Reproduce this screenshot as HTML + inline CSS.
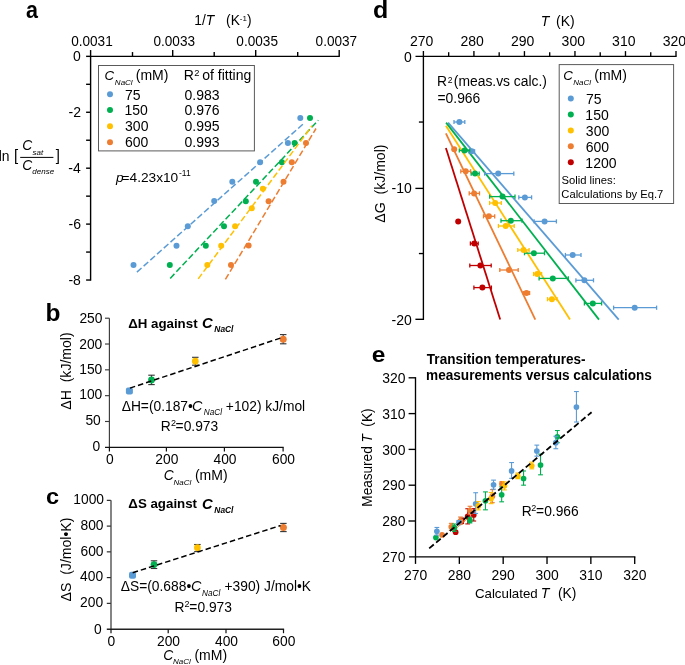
<!DOCTYPE html>
<html><head><meta charset="utf-8"><style>
html,body{margin:0;padding:0;background:#fff;}
svg{display:block;will-change:transform;font-family:"Liberation Sans",sans-serif;}
</style></head><body>
<svg width="685" height="665" viewBox="0 0 685 665">
<text transform="translate(26.00,18.10) scale(1.0,1.1)" font-size="21.5" font-weight="bold">a</text>
<line x1="89.95" y1="56.35" x2="339.85" y2="56.35" stroke="#000" stroke-width="1.4"/>
<line x1="90.60" y1="56.35" x2="90.60" y2="50.05" stroke="#000" stroke-width="1.4"/>
<line x1="132.50" y1="56.35" x2="132.50" y2="52.05" stroke="#000" stroke-width="1.4"/>
<line x1="172.70" y1="56.35" x2="172.70" y2="50.05" stroke="#000" stroke-width="1.4"/>
<line x1="214.20" y1="56.35" x2="214.20" y2="52.05" stroke="#000" stroke-width="1.4"/>
<line x1="255.70" y1="56.35" x2="255.70" y2="50.05" stroke="#000" stroke-width="1.4"/>
<line x1="297.70" y1="56.35" x2="297.70" y2="52.05" stroke="#000" stroke-width="1.4"/>
<line x1="339.20" y1="56.35" x2="339.20" y2="50.05" stroke="#000" stroke-width="1.4"/>
<text transform="translate(71.17,45.90) scale(1.0,1.03)" font-size="13.6">0.0031</text>
<text transform="translate(153.47,45.90) scale(1.0,1.03)" font-size="13.6">0.0033</text>
<text transform="translate(236.37,45.90) scale(1.0,1.03)" font-size="13.6">0.0035</text>
<text transform="translate(315.57,45.90) scale(1.0,1.03)" font-size="13.6">0.0037</text>
<text transform="translate(194.25,25.30) scale(1.0,1.0)" font-size="13.8">1/<tspan font-style="italic">T</tspan></text>
<text transform="translate(226.04,25.30) scale(1.0,1.0)" font-size="13.8">(K<tspan font-size="8" dy="-4.3">-1</tspan><tspan dy="4.3">)</tspan></text>
<line x1="90.60" y1="56.35" x2="90.60" y2="280.68" stroke="#000" stroke-width="1.4"/>
<line x1="86.10" y1="56.35" x2="90.60" y2="56.35" stroke="#000" stroke-width="1.4"/>
<line x1="86.10" y1="84.31" x2="90.60" y2="84.31" stroke="#000" stroke-width="1.4"/>
<line x1="86.10" y1="112.27" x2="90.60" y2="112.27" stroke="#000" stroke-width="1.4"/>
<line x1="86.10" y1="140.23" x2="90.60" y2="140.23" stroke="#000" stroke-width="1.4"/>
<line x1="86.10" y1="168.19" x2="90.60" y2="168.19" stroke="#000" stroke-width="1.4"/>
<line x1="86.10" y1="196.15" x2="90.60" y2="196.15" stroke="#000" stroke-width="1.4"/>
<line x1="86.10" y1="224.11" x2="90.60" y2="224.11" stroke="#000" stroke-width="1.4"/>
<line x1="86.10" y1="252.07" x2="90.60" y2="252.07" stroke="#000" stroke-width="1.4"/>
<line x1="86.10" y1="280.03" x2="90.60" y2="280.03" stroke="#000" stroke-width="1.4"/>
<text transform="translate(73.06,61.15) scale(1.0,1.0)" font-size="14">0</text>
<text transform="translate(68.55,117.07) scale(1.0,1.0)" font-size="14">-2</text>
<text transform="translate(68.26,172.99) scale(1.0,1.0)" font-size="14">-4</text>
<text transform="translate(68.47,228.91) scale(1.0,1.0)" font-size="14">-6</text>
<text transform="translate(68.46,284.83) scale(1.0,1.0)" font-size="14">-8</text>
<text transform="translate(-1.33,160.90) scale(1.0,1.0)" font-size="13.9">ln</text>
<text transform="translate(13.90,160.60) scale(1.0,1.06)" font-size="15">[</text>
<text transform="translate(55.70,160.60) scale(1.0,1.06)" font-size="15">]</text>
<line x1="20.20" y1="157.40" x2="53.40" y2="157.40" stroke="#000" stroke-width="1"/>
<text transform="translate(22.24,150.40) scale(1.0,1.06)" font-size="13.8" font-style="italic">C</text>
<text transform="translate(32.58,154.90) scale(1.0,0.9)" font-size="8" font-style="italic">sat</text>
<text transform="translate(22.24,169.90) scale(1.0,1.0)" font-size="13.8" font-style="italic">C</text>
<text transform="translate(32.33,174.40) scale(1.0,0.95)" font-size="8" font-style="italic">dense</text>
<rect x="98.5" y="65.5" width="155.9" height="85.4" fill="#fff" stroke="#5a5a5a" stroke-width="1"/>
<text transform="translate(104.57,80.00) scale(1.0,1.0)" font-size="13.3" font-style="italic">C</text>
<text transform="translate(114.85,84.80) scale(1.0,1.0)" font-size="8" font-style="italic">NaCl</text>
<text transform="translate(135.73,79.90) scale(1.0,1.0)" font-size="14">(mM)</text>
<text transform="translate(183.75,80.00) scale(1.0,1.0)" font-size="14">R</text>
<text transform="translate(194.34,75.50) scale(1.0,1.0)" font-size="9.3">2</text>
<text transform="translate(202.21,80.10) scale(1.0,1.0)" font-size="14">of fitting</text>
<circle cx="110.00" cy="94.20" r="3" fill="#5B9BD5"/>
<text transform="translate(124.89,99.80) scale(1.0,1.0)" font-size="14">75</text>
<text transform="translate(184.45,99.80) scale(1.0,1.0)" font-size="14">0.983</text>
<circle cx="110.00" cy="110.00" r="3" fill="#00B050"/>
<text transform="translate(124.54,115.30) scale(1.0,1.0)" font-size="14">150</text>
<text transform="translate(184.45,115.30) scale(1.0,1.0)" font-size="14">0.976</text>
<circle cx="110.00" cy="126.20" r="3" fill="#FFC000"/>
<text transform="translate(125.07,131.30) scale(1.0,1.0)" font-size="14">300</text>
<text transform="translate(184.45,131.30) scale(1.0,1.0)" font-size="14">0.995</text>
<circle cx="110.00" cy="142.30" r="3" fill="#ED7D31"/>
<text transform="translate(124.89,147.20) scale(1.0,1.0)" font-size="14">600</text>
<text transform="translate(184.45,147.20) scale(1.0,1.0)" font-size="14">0.993</text>
<text transform="translate(115.94,181.60) scale(1.0,1.0)" font-size="13.7" font-style="italic">p</text>
<text transform="translate(121.53,181.60) scale(1.0,1.0)" font-size="13.7">=4.23x10</text>
<text transform="translate(179.00,176.20) scale(1.0,1.0)" font-size="8.5">-11</text>
<circle cx="133.50" cy="265.10" r="3" fill="#5B9BD5"/>
<circle cx="176.50" cy="245.70" r="3" fill="#5B9BD5"/>
<circle cx="187.80" cy="226.30" r="3" fill="#5B9BD5"/>
<circle cx="214.20" cy="201.10" r="3" fill="#5B9BD5"/>
<circle cx="232.30" cy="181.80" r="3" fill="#5B9BD5"/>
<circle cx="260.10" cy="162.30" r="3" fill="#5B9BD5"/>
<circle cx="287.90" cy="143.00" r="3" fill="#5B9BD5"/>
<circle cx="300.30" cy="118.00" r="3" fill="#5B9BD5"/>
<circle cx="169.80" cy="265.10" r="3" fill="#00B050"/>
<circle cx="205.80" cy="245.70" r="3" fill="#00B050"/>
<circle cx="224.00" cy="226.30" r="3" fill="#00B050"/>
<circle cx="245.80" cy="201.20" r="3" fill="#00B050"/>
<circle cx="256.00" cy="181.80" r="3" fill="#00B050"/>
<circle cx="281.90" cy="162.20" r="3" fill="#00B050"/>
<circle cx="294.60" cy="143.00" r="3" fill="#00B050"/>
<circle cx="310.00" cy="118.00" r="3" fill="#00B050"/>
<circle cx="207.30" cy="265.10" r="3" fill="#FFC000"/>
<circle cx="221.20" cy="245.70" r="3" fill="#FFC000"/>
<circle cx="235.10" cy="226.20" r="3" fill="#FFC000"/>
<circle cx="251.80" cy="208.20" r="3" fill="#FFC000"/>
<circle cx="262.90" cy="188.70" r="3" fill="#FFC000"/>
<circle cx="231.00" cy="265.10" r="3" fill="#ED7D31"/>
<circle cx="248.60" cy="245.60" r="3" fill="#ED7D31"/>
<circle cx="268.60" cy="201.20" r="3" fill="#ED7D31"/>
<circle cx="283.50" cy="181.80" r="3" fill="#ED7D31"/>
<circle cx="291.80" cy="162.30" r="3" fill="#ED7D31"/>
<circle cx="306.00" cy="143.00" r="3" fill="#ED7D31"/>
<line x1="136.90" y1="272.10" x2="304.30" y2="123.00" stroke="#5B9BD5" stroke-width="1.5" stroke-dasharray="6.2,2.8"/>
<line x1="170.20" y1="278.40" x2="318.30" y2="120.30" stroke="#00B050" stroke-width="1.5" stroke-dasharray="6.2,2.8"/>
<line x1="198.20" y1="278.90" x2="312.00" y2="125.80" stroke="#FFC000" stroke-width="1.5" stroke-dasharray="6.2,2.8"/>
<line x1="225.40" y1="279.40" x2="316.00" y2="128.50" stroke="#ED7D31" stroke-width="1.5" stroke-dasharray="6.2,2.8"/>
<text transform="translate(45.60,320.90) scale(1.0,0.97)" font-size="24.5" font-weight="bold">b</text>
<line x1="109.40" y1="318.20" x2="109.40" y2="447.30" stroke="#3a3a3a" stroke-width="1.15"/>
<line x1="105.00" y1="447.40" x2="283.70" y2="447.40" stroke="#111" stroke-width="1.3"/>
<line x1="105.00" y1="421.48" x2="109.40" y2="421.48" stroke="#3a3a3a" stroke-width="1.15"/>
<line x1="105.00" y1="395.66" x2="109.40" y2="395.66" stroke="#3a3a3a" stroke-width="1.15"/>
<line x1="105.00" y1="369.84" x2="109.40" y2="369.84" stroke="#3a3a3a" stroke-width="1.15"/>
<line x1="105.00" y1="344.02" x2="109.40" y2="344.02" stroke="#3a3a3a" stroke-width="1.15"/>
<line x1="105.00" y1="318.20" x2="109.40" y2="318.20" stroke="#3a3a3a" stroke-width="1.15"/>
<text transform="translate(79.42,322.60) scale(1.0,1.0)" font-size="13.8">250</text>
<text transform="translate(79.22,348.50) scale(1.0,1.0)" font-size="13.8">200</text>
<text transform="translate(79.22,374.00) scale(1.0,1.0)" font-size="13.8">150</text>
<text transform="translate(79.22,399.00) scale(1.0,1.0)" font-size="13.8">100</text>
<text transform="translate(85.39,424.70) scale(1.0,1.0)" font-size="13.8">50</text>
<text transform="translate(92.47,450.60) scale(1.0,1.0)" font-size="13.8">0</text>
<line x1="109.40" y1="447.40" x2="109.40" y2="451.40" stroke="#111" stroke-width="1.2"/>
<text transform="translate(106.06,464.40) scale(1.0,1.0)" font-size="13.8">0</text>
<line x1="166.40" y1="447.40" x2="166.40" y2="451.40" stroke="#111" stroke-width="1.2"/>
<text transform="translate(155.31,464.40) scale(1.0,1.0)" font-size="13.8">200</text>
<line x1="224.40" y1="447.40" x2="224.40" y2="451.40" stroke="#111" stroke-width="1.2"/>
<text transform="translate(213.50,464.40) scale(1.0,1.0)" font-size="13.8">400</text>
<line x1="283.10" y1="447.40" x2="283.10" y2="451.40" stroke="#111" stroke-width="1.2"/>
<text transform="translate(272.01,464.40) scale(1.0,1.0)" font-size="13.8">600</text>
<text transform="translate(128.15,327.90) scale(1.0,1.0)" font-size="13.3" font-weight="bold">ΔH against</text>
<text transform="translate(202.07,328.20) scale(1.0,0.95)" font-size="14.8" font-weight="bold" font-style="italic">C</text>
<text transform="translate(214.35,332.30) scale(1.0,1.0)" font-size="8.4" font-weight="bold" font-style="italic">NaCl</text>
<line x1="151.50" y1="375.20" x2="151.50" y2="384.60" stroke="#333" stroke-width="1.1"/>
<line x1="148.25" y1="375.20" x2="154.75" y2="375.20" stroke="#333" stroke-width="1.1"/>
<line x1="148.25" y1="384.60" x2="154.75" y2="384.60" stroke="#333" stroke-width="1.1"/>
<line x1="195.30" y1="357.30" x2="195.30" y2="365.20" stroke="#333" stroke-width="1.1"/>
<line x1="192.05" y1="357.30" x2="198.55" y2="357.30" stroke="#333" stroke-width="1.1"/>
<line x1="192.05" y1="365.20" x2="198.55" y2="365.20" stroke="#333" stroke-width="1.1"/>
<line x1="283.20" y1="334.60" x2="283.20" y2="343.80" stroke="#333" stroke-width="1.1"/>
<line x1="279.95" y1="334.60" x2="286.45" y2="334.60" stroke="#333" stroke-width="1.1"/>
<line x1="279.95" y1="343.80" x2="286.45" y2="343.80" stroke="#333" stroke-width="1.1"/>
<rect x="125.9" y="387.5" width="7" height="7" rx="2" fill="#5B9BD5"/>
<circle cx="151.50" cy="380.00" r="3.4" fill="#00B050"/>
<circle cx="195.30" cy="361.20" r="3.4" fill="#FFC000"/>
<circle cx="283.20" cy="339.30" r="3.5" fill="#ED7D31"/>
<line x1="129.90" y1="388.10" x2="282.90" y2="337.30" stroke="#000" stroke-width="1.5" stroke-dasharray="5.5,3"/>
<text transform="translate(121.69,411.10) scale(1.0,1.0)" font-size="13.8">ΔH=(0.187•</text>
<text transform="translate(191.91,411.10) scale(1.0,1.0)" font-size="14.4" font-style="italic">C</text>
<text transform="translate(203.75,415.00) scale(1.0,1.0)" font-size="8.2" font-style="italic">NaCl</text>
<text transform="translate(225.82,411.10) scale(1.0,1.0)" font-size="13.8">+102) kJ/mol</text>
<text transform="translate(160.67,430.70) scale(1.0,1.0)" font-size="13.8">R</text>
<text transform="translate(170.95,425.70) scale(1.0,1.0)" font-size="9">2</text>
<text transform="translate(175.62,430.70) scale(1.0,1.0)" font-size="13.8">=0.973</text>
<text transform="translate(163.84,479.60) scale(1.0,1.0)" font-size="13.8" font-style="italic">C</text>
<text transform="translate(173.55,484.80) scale(1.0,1.0)" font-size="8" font-style="italic">NaCl</text>
<text transform="translate(194.93,479.80) scale(1.0,1.0)" font-size="14">(mM)</text>
<text transform="translate(71.4,371.0) rotate(-90) scale(1.02,1)" font-size="13.8" text-anchor="middle" xml:space="preserve">ΔH  (kJ/mol)</text>
<text transform="translate(45.90,504.10) scale(1.0,0.96)" font-size="23.5" font-weight="bold">c</text>
<line x1="111.00" y1="500.35" x2="111.00" y2="629.10" stroke="#666" stroke-width="1.6"/>
<line x1="106.80" y1="629.20" x2="284.10" y2="629.20" stroke="#222" stroke-width="1.35"/>
<line x1="106.80" y1="603.35" x2="110.80" y2="603.35" stroke="#222" stroke-width="1.15"/>
<line x1="106.80" y1="577.60" x2="110.80" y2="577.60" stroke="#222" stroke-width="1.15"/>
<line x1="106.80" y1="551.85" x2="110.80" y2="551.85" stroke="#222" stroke-width="1.15"/>
<line x1="106.80" y1="526.10" x2="110.80" y2="526.10" stroke="#222" stroke-width="1.15"/>
<line x1="106.80" y1="500.35" x2="110.80" y2="500.35" stroke="#222" stroke-width="1.15"/>
<text transform="translate(73.35,504.40) scale(1.0,1.0)" font-size="13.8">1000</text>
<text transform="translate(80.52,530.20) scale(1.0,1.0)" font-size="13.8">800</text>
<text transform="translate(80.52,555.50) scale(1.0,1.0)" font-size="13.8">600</text>
<text transform="translate(80.12,581.10) scale(1.0,1.0)" font-size="13.8">400</text>
<text transform="translate(80.12,606.50) scale(1.0,1.0)" font-size="13.8">200</text>
<text transform="translate(93.97,633.50) scale(1.0,1.0)" font-size="13.8">0</text>
<line x1="111.00" y1="629.20" x2="111.00" y2="633.20" stroke="#111" stroke-width="1.2"/>
<text transform="translate(107.56,646.30) scale(1.0,1.0)" font-size="13.8">0</text>
<line x1="168.20" y1="629.20" x2="168.20" y2="633.20" stroke="#111" stroke-width="1.2"/>
<text transform="translate(157.01,646.30) scale(1.0,1.0)" font-size="13.8">200</text>
<line x1="226.00" y1="629.20" x2="226.00" y2="633.20" stroke="#111" stroke-width="1.2"/>
<text transform="translate(215.00,646.30) scale(1.0,1.0)" font-size="13.8">400</text>
<line x1="283.50" y1="629.20" x2="283.50" y2="633.20" stroke="#111" stroke-width="1.2"/>
<text transform="translate(272.31,646.30) scale(1.0,1.0)" font-size="13.8">600</text>
<text transform="translate(128.35,508.30) scale(1.0,1.0)" font-size="13.3" font-weight="bold">ΔS against</text>
<text transform="translate(202.07,508.60) scale(1.0,0.95)" font-size="14.8" font-weight="bold" font-style="italic">C</text>
<text transform="translate(214.35,512.70) scale(1.0,1.0)" font-size="8.4" font-weight="bold" font-style="italic">NaCl</text>
<line x1="154.00" y1="560.80" x2="154.00" y2="568.50" stroke="#333" stroke-width="1.1"/>
<line x1="150.75" y1="560.80" x2="157.25" y2="560.80" stroke="#333" stroke-width="1.1"/>
<line x1="150.75" y1="568.50" x2="157.25" y2="568.50" stroke="#333" stroke-width="1.1"/>
<line x1="197.40" y1="544.50" x2="197.40" y2="551.60" stroke="#333" stroke-width="1.1"/>
<line x1="194.15" y1="544.50" x2="200.65" y2="544.50" stroke="#333" stroke-width="1.1"/>
<line x1="194.15" y1="551.60" x2="200.65" y2="551.60" stroke="#333" stroke-width="1.1"/>
<line x1="283.40" y1="523.40" x2="283.40" y2="531.60" stroke="#333" stroke-width="1.1"/>
<line x1="280.15" y1="523.40" x2="286.65" y2="523.40" stroke="#333" stroke-width="1.1"/>
<line x1="280.15" y1="531.60" x2="286.65" y2="531.60" stroke="#333" stroke-width="1.1"/>
<rect x="129.0" y="571.8" width="7" height="7" rx="2" fill="#5B9BD5"/>
<circle cx="154.00" cy="564.60" r="3.4" fill="#00B050"/>
<circle cx="197.40" cy="547.70" r="3.4" fill="#FFC000"/>
<circle cx="283.40" cy="527.40" r="3.5" fill="#ED7D31"/>
<line x1="132.70" y1="572.70" x2="280.60" y2="525.50" stroke="#000" stroke-width="1.5" stroke-dasharray="5.5,3"/>
<text transform="translate(120.79,590.80) scale(1.0,1.0)" font-size="13.8">ΔS=(0.688•</text>
<text transform="translate(191.01,590.80) scale(1.0,1.0)" font-size="14.4" font-style="italic">C</text>
<text transform="translate(202.05,595.60) scale(1.0,1.0)" font-size="8.2" font-style="italic">NaCl</text>
<text transform="translate(224.52,590.80) scale(1.0,1.0)" font-size="13.8">+390) J/mol•K</text>
<text transform="translate(174.57,612.00) scale(1.0,1.0)" font-size="13.8">R</text>
<text transform="translate(184.55,606.60) scale(1.0,1.0)" font-size="9">2</text>
<text transform="translate(189.32,612.00) scale(1.0,1.0)" font-size="13.8">=0.973</text>
<text transform="translate(163.34,659.60) scale(1.0,1.0)" font-size="13.8" font-style="italic">C</text>
<text transform="translate(173.05,664.40) scale(1.0,1.0)" font-size="8" font-style="italic">NaCl</text>
<text transform="translate(194.43,660.00) scale(1.0,1.0)" font-size="14">(mM)</text>
<text transform="translate(71.3,559.5) rotate(-90) scale(1.02,1)" font-size="13.8" text-anchor="middle" xml:space="preserve">ΔS  (J/mol•K)</text>
<text transform="translate(373.00,17.60) scale(1.0,0.92)" font-size="25" font-weight="bold">d</text>
<line x1="415.50" y1="56.30" x2="676.65" y2="56.30" stroke="#000" stroke-width="1.35"/>
<line x1="423.40" y1="51.10" x2="423.40" y2="319.95" stroke="#000" stroke-width="1.35"/>
<text transform="translate(409.95,45.90) scale(1.0,1.0)" font-size="14">270</text>
<line x1="448.66" y1="56.30" x2="448.66" y2="52.20" stroke="#000" stroke-width="1.35"/>
<line x1="473.92" y1="56.30" x2="473.92" y2="51.10" stroke="#000" stroke-width="1.35"/>
<text transform="translate(460.47,45.90) scale(1.0,1.0)" font-size="14">280</text>
<line x1="499.18" y1="56.30" x2="499.18" y2="52.20" stroke="#000" stroke-width="1.35"/>
<line x1="524.44" y1="56.30" x2="524.44" y2="51.10" stroke="#000" stroke-width="1.35"/>
<text transform="translate(510.99,45.90) scale(1.0,1.0)" font-size="14">290</text>
<line x1="549.70" y1="56.30" x2="549.70" y2="52.20" stroke="#000" stroke-width="1.35"/>
<line x1="574.96" y1="56.30" x2="574.96" y2="51.10" stroke="#000" stroke-width="1.35"/>
<text transform="translate(561.59,45.90) scale(1.0,1.0)" font-size="14">300</text>
<line x1="600.22" y1="56.30" x2="600.22" y2="52.20" stroke="#000" stroke-width="1.35"/>
<line x1="625.48" y1="56.30" x2="625.48" y2="51.10" stroke="#000" stroke-width="1.35"/>
<text transform="translate(612.11,45.90) scale(1.0,1.0)" font-size="14">310</text>
<line x1="650.74" y1="56.30" x2="650.74" y2="52.20" stroke="#000" stroke-width="1.35"/>
<line x1="676.00" y1="56.30" x2="676.00" y2="51.10" stroke="#000" stroke-width="1.35"/>
<text transform="translate(662.63,45.90) scale(1.0,1.0)" font-size="14">320</text>
<line x1="418.90" y1="122.05" x2="423.40" y2="122.05" stroke="#000" stroke-width="1.35"/>
<line x1="415.40" y1="188.40" x2="423.40" y2="188.40" stroke="#000" stroke-width="1.35"/>
<line x1="418.90" y1="253.55" x2="423.40" y2="253.55" stroke="#000" stroke-width="1.35"/>
<line x1="415.40" y1="319.30" x2="423.40" y2="319.30" stroke="#000" stroke-width="1.35"/>
<text transform="translate(403.96,61.60) scale(1.0,1.0)" font-size="14">0</text>
<text transform="translate(391.52,192.90) scale(1.0,1.0)" font-size="14">-10</text>
<text transform="translate(391.52,325.30) scale(1.0,1.0)" font-size="14">-20</text>
<text transform="translate(540.64,26.40) scale(1.0,1.0)" font-size="14" font-style="italic">T</text>
<text transform="translate(556.03,26.40) scale(1.0,1.0)" font-size="14">(K)</text>
<text transform="translate(384.9,183.6) rotate(-90) scale(1.02,1)" font-size="13.8" text-anchor="middle" xml:space="preserve">ΔG  (kJ/mol)</text>
<text transform="translate(437.06,86.40) scale(1.0,1.0)" font-size="13.85">R</text>
<text transform="translate(447.87,82.50) scale(1.0,1.0)" font-size="8.6">2</text>
<text transform="translate(453.84,86.40) scale(1.0,1.0)" font-size="13.85">(meas.vs calc.)</text>
<text transform="translate(437.52,102.70) scale(1.0,1.0)" font-size="13.85">=0.966</text>
<rect x="559.2" y="64.6" width="114.4" height="138.9" fill="#fff" stroke="#5a5a5a" stroke-width="1"/>
<text transform="translate(563.37,80.30) scale(1.0,1.0)" font-size="13.3" font-style="italic">C</text>
<text transform="translate(573.15,84.90) scale(1.0,1.0)" font-size="8" font-style="italic">NaCl</text>
<text transform="translate(594.23,80.20) scale(1.0,1.0)" font-size="14">(mM)</text>
<circle cx="570.80" cy="98.50" r="3" fill="#5B9BD5"/>
<text transform="translate(585.89,103.70) scale(1.0,1.0)" font-size="14">75</text>
<circle cx="570.80" cy="114.45" r="3" fill="#00B050"/>
<text transform="translate(585.34,119.65) scale(1.0,1.0)" font-size="14">150</text>
<circle cx="570.80" cy="130.40" r="3" fill="#FFC000"/>
<text transform="translate(585.87,135.60) scale(1.0,1.0)" font-size="14">300</text>
<circle cx="570.80" cy="146.35" r="3" fill="#ED7D31"/>
<text transform="translate(585.69,151.55) scale(1.0,1.0)" font-size="14">600</text>
<circle cx="570.80" cy="162.30" r="3" fill="#C00000"/>
<text transform="translate(585.34,167.50) scale(1.0,1.0)" font-size="14">1200</text>
<text transform="translate(561.38,184.10) scale(1.0,1.0)" font-size="11.25">Solid lines:</text>
<text transform="translate(561.33,197.60) scale(1.0,1.0)" font-size="11.2">Calculations by Eq.7</text>
<line x1="448.10" y1="122.60" x2="618.70" y2="319.60" stroke="#5B9BD5" stroke-width="1.8"/>
<line x1="446.10" y1="122.60" x2="599.00" y2="319.60" stroke="#00B050" stroke-width="1.8"/>
<line x1="445.90" y1="125.80" x2="570.00" y2="319.60" stroke="#FFC000" stroke-width="1.8"/>
<line x1="445.90" y1="133.30" x2="535.30" y2="319.60" stroke="#ED7D31" stroke-width="1.8"/>
<line x1="445.90" y1="147.90" x2="500.20" y2="319.60" stroke="#C00000" stroke-width="1.8"/>
<line x1="454.00" y1="122.00" x2="464.80" y2="122.00" stroke="#5B9BD5" stroke-width="1.3"/>
<line x1="454.00" y1="119.90" x2="454.00" y2="124.10" stroke="#5B9BD5" stroke-width="1.3"/>
<line x1="464.80" y1="119.90" x2="464.80" y2="124.10" stroke="#5B9BD5" stroke-width="1.3"/>
<circle cx="459.40" cy="122.00" r="3" fill="#5B9BD5"/>
<line x1="468.60" y1="151.30" x2="474.60" y2="151.30" stroke="#5B9BD5" stroke-width="1.3"/>
<line x1="468.60" y1="149.20" x2="468.60" y2="153.40" stroke="#5B9BD5" stroke-width="1.3"/>
<line x1="474.60" y1="149.20" x2="474.60" y2="153.40" stroke="#5B9BD5" stroke-width="1.3"/>
<circle cx="471.80" cy="151.30" r="3" fill="#5B9BD5"/>
<line x1="484.60" y1="173.60" x2="513.80" y2="173.60" stroke="#5B9BD5" stroke-width="1.3"/>
<line x1="484.60" y1="171.50" x2="484.60" y2="175.70" stroke="#5B9BD5" stroke-width="1.3"/>
<line x1="513.80" y1="171.50" x2="513.80" y2="175.70" stroke="#5B9BD5" stroke-width="1.3"/>
<circle cx="498.20" cy="173.60" r="3" fill="#5B9BD5"/>
<line x1="518.80" y1="197.40" x2="531.60" y2="197.40" stroke="#5B9BD5" stroke-width="1.3"/>
<line x1="518.80" y1="195.30" x2="518.80" y2="199.50" stroke="#5B9BD5" stroke-width="1.3"/>
<line x1="531.60" y1="195.30" x2="531.60" y2="199.50" stroke="#5B9BD5" stroke-width="1.3"/>
<circle cx="524.90" cy="197.40" r="3" fill="#5B9BD5"/>
<line x1="534.10" y1="221.40" x2="556.40" y2="221.40" stroke="#5B9BD5" stroke-width="1.3"/>
<line x1="534.10" y1="219.30" x2="534.10" y2="223.50" stroke="#5B9BD5" stroke-width="1.3"/>
<line x1="556.40" y1="219.30" x2="556.40" y2="223.50" stroke="#5B9BD5" stroke-width="1.3"/>
<circle cx="544.60" cy="221.40" r="3" fill="#5B9BD5"/>
<line x1="565.40" y1="255.00" x2="581.00" y2="255.00" stroke="#5B9BD5" stroke-width="1.3"/>
<line x1="565.40" y1="252.90" x2="565.40" y2="257.10" stroke="#5B9BD5" stroke-width="1.3"/>
<line x1="581.00" y1="252.90" x2="581.00" y2="257.10" stroke="#5B9BD5" stroke-width="1.3"/>
<circle cx="572.70" cy="255.00" r="3" fill="#5B9BD5"/>
<line x1="575.90" y1="280.30" x2="593.50" y2="280.30" stroke="#5B9BD5" stroke-width="1.3"/>
<line x1="575.90" y1="278.20" x2="575.90" y2="282.40" stroke="#5B9BD5" stroke-width="1.3"/>
<line x1="593.50" y1="278.20" x2="593.50" y2="282.40" stroke="#5B9BD5" stroke-width="1.3"/>
<circle cx="584.40" cy="280.30" r="3" fill="#5B9BD5"/>
<line x1="613.60" y1="307.70" x2="656.60" y2="307.70" stroke="#5B9BD5" stroke-width="1.3"/>
<line x1="613.60" y1="305.60" x2="613.60" y2="309.80" stroke="#5B9BD5" stroke-width="1.3"/>
<line x1="656.60" y1="305.60" x2="656.60" y2="309.80" stroke="#5B9BD5" stroke-width="1.3"/>
<circle cx="634.70" cy="307.70" r="3" fill="#5B9BD5"/>
<line x1="459.30" y1="150.50" x2="469.70" y2="150.50" stroke="#00B050" stroke-width="1.3"/>
<line x1="459.30" y1="148.40" x2="459.30" y2="152.60" stroke="#00B050" stroke-width="1.3"/>
<line x1="469.70" y1="148.40" x2="469.70" y2="152.60" stroke="#00B050" stroke-width="1.3"/>
<circle cx="464.50" cy="150.50" r="3" fill="#00B050"/>
<line x1="471.20" y1="173.60" x2="479.20" y2="173.60" stroke="#00B050" stroke-width="1.3"/>
<line x1="471.20" y1="171.50" x2="471.20" y2="175.70" stroke="#00B050" stroke-width="1.3"/>
<line x1="479.20" y1="171.50" x2="479.20" y2="175.70" stroke="#00B050" stroke-width="1.3"/>
<circle cx="475.00" cy="173.60" r="3" fill="#00B050"/>
<line x1="489.70" y1="196.60" x2="515.00" y2="196.60" stroke="#00B050" stroke-width="1.3"/>
<line x1="489.70" y1="194.50" x2="489.70" y2="198.70" stroke="#00B050" stroke-width="1.3"/>
<line x1="515.00" y1="194.50" x2="515.00" y2="198.70" stroke="#00B050" stroke-width="1.3"/>
<circle cx="502.50" cy="196.60" r="3" fill="#00B050"/>
<line x1="501.00" y1="220.70" x2="522.00" y2="220.70" stroke="#00B050" stroke-width="1.3"/>
<line x1="501.00" y1="218.60" x2="501.00" y2="222.80" stroke="#00B050" stroke-width="1.3"/>
<line x1="522.00" y1="218.60" x2="522.00" y2="222.80" stroke="#00B050" stroke-width="1.3"/>
<circle cx="510.80" cy="220.70" r="3" fill="#00B050"/>
<line x1="524.50" y1="253.20" x2="544.50" y2="253.20" stroke="#00B050" stroke-width="1.3"/>
<line x1="524.50" y1="251.10" x2="524.50" y2="255.30" stroke="#00B050" stroke-width="1.3"/>
<line x1="544.50" y1="251.10" x2="544.50" y2="255.30" stroke="#00B050" stroke-width="1.3"/>
<circle cx="533.90" cy="253.20" r="3" fill="#00B050"/>
<line x1="539.10" y1="278.40" x2="568.30" y2="278.40" stroke="#00B050" stroke-width="1.3"/>
<line x1="539.10" y1="276.30" x2="539.10" y2="280.50" stroke="#00B050" stroke-width="1.3"/>
<line x1="568.30" y1="276.30" x2="568.30" y2="280.50" stroke="#00B050" stroke-width="1.3"/>
<circle cx="552.80" cy="278.40" r="3" fill="#00B050"/>
<line x1="584.40" y1="303.40" x2="601.60" y2="303.40" stroke="#00B050" stroke-width="1.3"/>
<line x1="584.40" y1="301.30" x2="584.40" y2="305.50" stroke="#00B050" stroke-width="1.3"/>
<line x1="601.60" y1="301.30" x2="601.60" y2="305.50" stroke="#00B050" stroke-width="1.3"/>
<circle cx="592.80" cy="303.40" r="3" fill="#00B050"/>
<line x1="489.60" y1="203.00" x2="501.30" y2="203.00" stroke="#FFC000" stroke-width="1.3"/>
<line x1="489.60" y1="200.90" x2="489.60" y2="205.10" stroke="#FFC000" stroke-width="1.3"/>
<line x1="501.30" y1="200.90" x2="501.30" y2="205.10" stroke="#FFC000" stroke-width="1.3"/>
<circle cx="495.20" cy="203.00" r="3" fill="#FFC000"/>
<line x1="498.40" y1="226.00" x2="514.20" y2="226.00" stroke="#FFC000" stroke-width="1.3"/>
<line x1="498.40" y1="223.90" x2="498.40" y2="228.10" stroke="#FFC000" stroke-width="1.3"/>
<line x1="514.20" y1="223.90" x2="514.20" y2="228.10" stroke="#FFC000" stroke-width="1.3"/>
<circle cx="505.70" cy="226.00" r="3" fill="#FFC000"/>
<line x1="517.80" y1="250.00" x2="529.10" y2="250.00" stroke="#FFC000" stroke-width="1.3"/>
<line x1="517.80" y1="247.90" x2="517.80" y2="252.10" stroke="#FFC000" stroke-width="1.3"/>
<line x1="529.10" y1="247.90" x2="529.10" y2="252.10" stroke="#FFC000" stroke-width="1.3"/>
<circle cx="523.50" cy="250.00" r="3" fill="#FFC000"/>
<line x1="533.60" y1="274.00" x2="541.60" y2="274.00" stroke="#FFC000" stroke-width="1.3"/>
<line x1="533.60" y1="271.90" x2="533.60" y2="276.10" stroke="#FFC000" stroke-width="1.3"/>
<line x1="541.60" y1="271.90" x2="541.60" y2="276.10" stroke="#FFC000" stroke-width="1.3"/>
<circle cx="537.20" cy="274.00" r="3" fill="#FFC000"/>
<line x1="547.50" y1="299.20" x2="557.00" y2="299.20" stroke="#FFC000" stroke-width="1.3"/>
<line x1="547.50" y1="297.10" x2="547.50" y2="301.30" stroke="#FFC000" stroke-width="1.3"/>
<line x1="557.00" y1="297.10" x2="557.00" y2="301.30" stroke="#FFC000" stroke-width="1.3"/>
<circle cx="551.90" cy="299.20" r="3" fill="#FFC000"/>
<circle cx="454.20" cy="149.30" r="3" fill="#ED7D31"/>
<line x1="460.80" y1="171.30" x2="470.60" y2="171.30" stroke="#ED7D31" stroke-width="1.3"/>
<line x1="460.80" y1="169.20" x2="460.80" y2="173.40" stroke="#ED7D31" stroke-width="1.3"/>
<line x1="470.60" y1="169.20" x2="470.60" y2="173.40" stroke="#ED7D31" stroke-width="1.3"/>
<circle cx="465.70" cy="171.30" r="3" fill="#ED7D31"/>
<line x1="469.20" y1="193.40" x2="479.50" y2="193.40" stroke="#ED7D31" stroke-width="1.3"/>
<line x1="469.20" y1="191.30" x2="469.20" y2="195.50" stroke="#ED7D31" stroke-width="1.3"/>
<line x1="479.50" y1="191.30" x2="479.50" y2="195.50" stroke="#ED7D31" stroke-width="1.3"/>
<circle cx="474.10" cy="193.40" r="3" fill="#ED7D31"/>
<line x1="483.50" y1="216.30" x2="494.70" y2="216.30" stroke="#ED7D31" stroke-width="1.3"/>
<line x1="483.50" y1="214.20" x2="483.50" y2="218.40" stroke="#ED7D31" stroke-width="1.3"/>
<line x1="494.70" y1="214.20" x2="494.70" y2="218.40" stroke="#ED7D31" stroke-width="1.3"/>
<circle cx="488.90" cy="216.30" r="3" fill="#ED7D31"/>
<line x1="499.80" y1="270.00" x2="518.20" y2="270.00" stroke="#ED7D31" stroke-width="1.3"/>
<line x1="499.80" y1="267.90" x2="499.80" y2="272.10" stroke="#ED7D31" stroke-width="1.3"/>
<line x1="518.20" y1="267.90" x2="518.20" y2="272.10" stroke="#ED7D31" stroke-width="1.3"/>
<circle cx="509.00" cy="270.00" r="3" fill="#ED7D31"/>
<line x1="523.30" y1="293.00" x2="529.60" y2="293.00" stroke="#ED7D31" stroke-width="1.3"/>
<line x1="523.30" y1="290.90" x2="523.30" y2="295.10" stroke="#ED7D31" stroke-width="1.3"/>
<line x1="529.60" y1="290.90" x2="529.60" y2="295.10" stroke="#ED7D31" stroke-width="1.3"/>
<circle cx="526.50" cy="293.00" r="3" fill="#ED7D31"/>
<circle cx="458.20" cy="221.60" r="3" fill="#C00000"/>
<line x1="470.40" y1="243.50" x2="478.20" y2="243.50" stroke="#C00000" stroke-width="1.3"/>
<line x1="470.40" y1="241.40" x2="470.40" y2="245.60" stroke="#C00000" stroke-width="1.3"/>
<line x1="478.20" y1="241.40" x2="478.20" y2="245.60" stroke="#C00000" stroke-width="1.3"/>
<circle cx="474.30" cy="243.50" r="3" fill="#C00000"/>
<line x1="469.80" y1="265.50" x2="491.20" y2="265.50" stroke="#C00000" stroke-width="1.3"/>
<line x1="469.80" y1="263.40" x2="469.80" y2="267.60" stroke="#C00000" stroke-width="1.3"/>
<line x1="491.20" y1="263.40" x2="491.20" y2="267.60" stroke="#C00000" stroke-width="1.3"/>
<circle cx="480.40" cy="265.50" r="3" fill="#C00000"/>
<line x1="473.90" y1="287.60" x2="491.40" y2="287.60" stroke="#C00000" stroke-width="1.3"/>
<line x1="473.90" y1="285.50" x2="473.90" y2="289.70" stroke="#C00000" stroke-width="1.3"/>
<line x1="491.40" y1="285.50" x2="491.40" y2="289.70" stroke="#C00000" stroke-width="1.3"/>
<circle cx="482.40" cy="287.60" r="3" fill="#C00000"/>
<text transform="translate(371.80,361.80) scale(1.0,0.88)" font-size="24.5" font-weight="bold">e</text>
<text transform="translate(426.85,363.90) scale(1.0,1.06)" font-size="13.55" font-weight="bold">Transition temperatures-</text>
<text transform="translate(426.10,379.80) scale(1.0,1.06)" font-size="13.6" font-weight="bold">measurements versus calculations</text>
<line x1="415.50" y1="377.15" x2="415.50" y2="563.90" stroke="#000" stroke-width="1.35"/>
<line x1="409.00" y1="556.80" x2="635.35" y2="556.80" stroke="#000" stroke-width="1.35"/>
<text transform="translate(382.36,562.00) scale(1.0,1.0)" font-size="13.9">270</text>
<text transform="translate(403.93,579.70) scale(1.0,1.0)" font-size="13.9">270</text>
<line x1="408.60" y1="521.00" x2="415.50" y2="521.00" stroke="#000" stroke-width="1.35"/>
<line x1="459.34" y1="556.80" x2="459.34" y2="563.90" stroke="#000" stroke-width="1.35"/>
<text transform="translate(382.36,526.20) scale(1.0,1.0)" font-size="13.9">280</text>
<text transform="translate(447.77,579.70) scale(1.0,1.0)" font-size="13.9">280</text>
<line x1="408.60" y1="485.20" x2="415.50" y2="485.20" stroke="#000" stroke-width="1.35"/>
<line x1="503.18" y1="556.80" x2="503.18" y2="563.90" stroke="#000" stroke-width="1.35"/>
<text transform="translate(382.36,490.40) scale(1.0,1.0)" font-size="13.9">290</text>
<text transform="translate(491.61,579.70) scale(1.0,1.0)" font-size="13.9">290</text>
<line x1="408.60" y1="449.40" x2="415.50" y2="449.40" stroke="#000" stroke-width="1.35"/>
<line x1="547.02" y1="556.80" x2="547.02" y2="563.90" stroke="#000" stroke-width="1.35"/>
<text transform="translate(382.36,454.60) scale(1.0,1.0)" font-size="13.9">300</text>
<text transform="translate(535.53,579.70) scale(1.0,1.0)" font-size="13.9">300</text>
<line x1="408.60" y1="413.60" x2="415.50" y2="413.60" stroke="#000" stroke-width="1.35"/>
<line x1="590.86" y1="556.80" x2="590.86" y2="563.90" stroke="#000" stroke-width="1.35"/>
<text transform="translate(382.36,418.80) scale(1.0,1.0)" font-size="13.9">310</text>
<text transform="translate(579.37,579.70) scale(1.0,1.0)" font-size="13.9">310</text>
<line x1="408.60" y1="377.80" x2="415.50" y2="377.80" stroke="#000" stroke-width="1.35"/>
<line x1="634.70" y1="556.80" x2="634.70" y2="563.90" stroke="#000" stroke-width="1.35"/>
<text transform="translate(382.36,383.00) scale(1.0,1.0)" font-size="13.9">320</text>
<text transform="translate(623.21,579.70) scale(1.0,1.0)" font-size="13.9">320</text>
<text transform="translate(372.4,457.6) rotate(-90) scale(0.985,1)" font-size="13.8" text-anchor="middle" xml:space="preserve">Measured <tspan font-style="italic">T</tspan>  (K)</text>
<text transform="translate(474.92,598.10) scale(1.0,1.0)" font-size="13.3">Calculated</text>
<text transform="translate(540.72,598.10) scale(1.0,1.0)" font-size="14.2" font-style="italic">T</text>
<text transform="translate(557.94,598.10) scale(1.0,1.0)" font-size="13.8">(K)</text>
<text transform="translate(521.87,515.90) scale(1.0,1.0)" font-size="13.8">R</text>
<text transform="translate(531.30,510.70) scale(1.0,1.0)" font-size="9">2</text>
<text transform="translate(536.12,515.90) scale(1.0,1.0)" font-size="13.8">=0.966</text>
<circle cx="455.65" cy="532.14" r="2.85" fill="#C00000"/>
<line x1="461.66" y1="517.97" x2="461.66" y2="523.49" stroke="#C00000" stroke-width="1.1"/>
<line x1="459.26" y1="517.97" x2="464.06" y2="517.97" stroke="#C00000" stroke-width="1.1"/>
<line x1="459.26" y1="523.49" x2="464.06" y2="523.49" stroke="#C00000" stroke-width="1.1"/>
<circle cx="461.66" cy="520.73" r="2.85" fill="#C00000"/>
<line x1="467.70" y1="508.75" x2="467.70" y2="523.92" stroke="#C00000" stroke-width="1.1"/>
<line x1="465.30" y1="508.75" x2="470.10" y2="508.75" stroke="#C00000" stroke-width="1.1"/>
<line x1="465.30" y1="523.92" x2="470.10" y2="523.92" stroke="#C00000" stroke-width="1.1"/>
<circle cx="467.70" cy="516.41" r="2.85" fill="#C00000"/>
<line x1="473.76" y1="508.61" x2="473.76" y2="521.01" stroke="#C00000" stroke-width="1.1"/>
<line x1="471.36" y1="508.61" x2="476.16" y2="508.61" stroke="#C00000" stroke-width="1.1"/>
<line x1="471.36" y1="521.01" x2="476.16" y2="521.01" stroke="#C00000" stroke-width="1.1"/>
<circle cx="473.76" cy="514.99" r="2.85" fill="#C00000"/>
<circle cx="442.09" cy="534.97" r="2.85" fill="#ED7D31"/>
<line x1="451.25" y1="523.35" x2="451.25" y2="530.30" stroke="#ED7D31" stroke-width="1.1"/>
<line x1="448.85" y1="523.35" x2="453.65" y2="523.35" stroke="#ED7D31" stroke-width="1.1"/>
<line x1="448.85" y1="530.30" x2="453.65" y2="530.30" stroke="#ED7D31" stroke-width="1.1"/>
<circle cx="451.25" cy="526.82" r="2.85" fill="#ED7D31"/>
<line x1="460.45" y1="517.05" x2="460.45" y2="524.34" stroke="#ED7D31" stroke-width="1.1"/>
<line x1="458.05" y1="517.05" x2="462.85" y2="517.05" stroke="#ED7D31" stroke-width="1.1"/>
<line x1="458.05" y1="524.34" x2="462.85" y2="524.34" stroke="#ED7D31" stroke-width="1.1"/>
<circle cx="460.45" cy="520.87" r="2.85" fill="#ED7D31"/>
<line x1="469.99" y1="506.27" x2="469.99" y2="514.21" stroke="#ED7D31" stroke-width="1.1"/>
<line x1="467.59" y1="506.27" x2="472.39" y2="506.27" stroke="#ED7D31" stroke-width="1.1"/>
<line x1="467.59" y1="514.21" x2="472.39" y2="514.21" stroke="#ED7D31" stroke-width="1.1"/>
<circle cx="469.99" cy="510.38" r="2.85" fill="#ED7D31"/>
<line x1="492.35" y1="489.62" x2="492.35" y2="502.66" stroke="#ED7D31" stroke-width="1.1"/>
<line x1="489.95" y1="489.62" x2="494.75" y2="489.62" stroke="#ED7D31" stroke-width="1.1"/>
<line x1="489.95" y1="502.66" x2="494.75" y2="502.66" stroke="#ED7D31" stroke-width="1.1"/>
<circle cx="492.35" cy="496.14" r="2.85" fill="#ED7D31"/>
<line x1="501.93" y1="481.54" x2="501.93" y2="486.01" stroke="#ED7D31" stroke-width="1.1"/>
<line x1="499.53" y1="481.54" x2="504.33" y2="481.54" stroke="#ED7D31" stroke-width="1.1"/>
<line x1="499.53" y1="486.01" x2="504.33" y2="486.01" stroke="#ED7D31" stroke-width="1.1"/>
<circle cx="501.93" cy="483.74" r="2.85" fill="#ED7D31"/>
<circle cx="435.90" cy="537.60" r="2.85" fill="#00B050"/>
<line x1="454.39" y1="523.99" x2="454.39" y2="531.36" stroke="#00B050" stroke-width="1.1"/>
<line x1="451.99" y1="523.99" x2="456.79" y2="523.99" stroke="#00B050" stroke-width="1.1"/>
<line x1="451.99" y1="531.36" x2="456.79" y2="531.36" stroke="#00B050" stroke-width="1.1"/>
<circle cx="454.39" cy="527.68" r="2.85" fill="#00B050"/>
<line x1="469.95" y1="517.26" x2="469.95" y2="522.93" stroke="#00B050" stroke-width="1.1"/>
<line x1="467.55" y1="517.26" x2="472.35" y2="517.26" stroke="#00B050" stroke-width="1.1"/>
<line x1="467.55" y1="522.93" x2="472.35" y2="522.93" stroke="#00B050" stroke-width="1.1"/>
<circle cx="469.95" cy="520.23" r="2.85" fill="#00B050"/>
<line x1="485.44" y1="491.89" x2="485.44" y2="509.82" stroke="#00B050" stroke-width="1.1"/>
<line x1="483.04" y1="491.89" x2="487.84" y2="491.89" stroke="#00B050" stroke-width="1.1"/>
<line x1="483.04" y1="509.82" x2="487.84" y2="509.82" stroke="#00B050" stroke-width="1.1"/>
<circle cx="485.44" cy="500.75" r="2.85" fill="#00B050"/>
<line x1="501.67" y1="486.93" x2="501.67" y2="501.81" stroke="#00B050" stroke-width="1.1"/>
<line x1="499.27" y1="486.93" x2="504.07" y2="486.93" stroke="#00B050" stroke-width="1.1"/>
<line x1="499.27" y1="501.81" x2="504.07" y2="501.81" stroke="#00B050" stroke-width="1.1"/>
<circle cx="501.67" cy="494.87" r="2.85" fill="#00B050"/>
<line x1="523.56" y1="470.98" x2="523.56" y2="485.16" stroke="#00B050" stroke-width="1.1"/>
<line x1="521.16" y1="470.98" x2="525.96" y2="470.98" stroke="#00B050" stroke-width="1.1"/>
<line x1="521.16" y1="485.16" x2="525.96" y2="485.16" stroke="#00B050" stroke-width="1.1"/>
<circle cx="523.56" cy="478.50" r="2.85" fill="#00B050"/>
<line x1="540.53" y1="454.12" x2="540.53" y2="474.81" stroke="#00B050" stroke-width="1.1"/>
<line x1="538.13" y1="454.12" x2="542.93" y2="454.12" stroke="#00B050" stroke-width="1.1"/>
<line x1="538.13" y1="474.81" x2="542.93" y2="474.81" stroke="#00B050" stroke-width="1.1"/>
<circle cx="540.53" cy="465.10" r="2.85" fill="#00B050"/>
<line x1="557.37" y1="430.52" x2="557.37" y2="442.71" stroke="#00B050" stroke-width="1.1"/>
<line x1="554.97" y1="430.52" x2="559.77" y2="430.52" stroke="#00B050" stroke-width="1.1"/>
<line x1="554.97" y1="442.71" x2="559.77" y2="442.71" stroke="#00B050" stroke-width="1.1"/>
<circle cx="557.37" cy="436.76" r="2.85" fill="#00B050"/>
<line x1="436.88" y1="527.46" x2="436.88" y2="535.12" stroke="#5B9BD5" stroke-width="1.1"/>
<line x1="434.48" y1="527.46" x2="439.28" y2="527.46" stroke="#5B9BD5" stroke-width="1.1"/>
<line x1="434.48" y1="535.12" x2="439.28" y2="535.12" stroke="#5B9BD5" stroke-width="1.1"/>
<circle cx="436.88" cy="531.29" r="2.85" fill="#5B9BD5"/>
<line x1="458.90" y1="520.52" x2="458.90" y2="524.77" stroke="#5B9BD5" stroke-width="1.1"/>
<line x1="456.50" y1="520.52" x2="461.30" y2="520.52" stroke="#5B9BD5" stroke-width="1.1"/>
<line x1="456.50" y1="524.77" x2="461.30" y2="524.77" stroke="#5B9BD5" stroke-width="1.1"/>
<circle cx="458.90" cy="522.50" r="2.85" fill="#5B9BD5"/>
<line x1="475.66" y1="492.74" x2="475.66" y2="513.43" stroke="#5B9BD5" stroke-width="1.1"/>
<line x1="473.26" y1="492.74" x2="478.06" y2="492.74" stroke="#5B9BD5" stroke-width="1.1"/>
<line x1="473.26" y1="513.43" x2="478.06" y2="513.43" stroke="#5B9BD5" stroke-width="1.1"/>
<circle cx="475.66" cy="503.79" r="2.85" fill="#5B9BD5"/>
<line x1="493.55" y1="480.13" x2="493.55" y2="489.20" stroke="#5B9BD5" stroke-width="1.1"/>
<line x1="491.15" y1="480.13" x2="495.95" y2="480.13" stroke="#5B9BD5" stroke-width="1.1"/>
<line x1="491.15" y1="489.20" x2="495.95" y2="489.20" stroke="#5B9BD5" stroke-width="1.1"/>
<circle cx="493.55" cy="484.87" r="2.85" fill="#5B9BD5"/>
<line x1="511.58" y1="462.55" x2="511.58" y2="478.35" stroke="#5B9BD5" stroke-width="1.1"/>
<line x1="509.18" y1="462.55" x2="513.98" y2="462.55" stroke="#5B9BD5" stroke-width="1.1"/>
<line x1="509.18" y1="478.35" x2="513.98" y2="478.35" stroke="#5B9BD5" stroke-width="1.1"/>
<circle cx="511.58" cy="470.91" r="2.85" fill="#5B9BD5"/>
<line x1="536.83" y1="445.12" x2="536.83" y2="456.17" stroke="#5B9BD5" stroke-width="1.1"/>
<line x1="534.43" y1="445.12" x2="539.23" y2="445.12" stroke="#5B9BD5" stroke-width="1.1"/>
<line x1="534.43" y1="456.17" x2="539.23" y2="456.17" stroke="#5B9BD5" stroke-width="1.1"/>
<circle cx="536.83" cy="451.00" r="2.85" fill="#5B9BD5"/>
<line x1="555.84" y1="436.26" x2="555.84" y2="448.73" stroke="#5B9BD5" stroke-width="1.1"/>
<line x1="553.44" y1="436.26" x2="558.24" y2="436.26" stroke="#5B9BD5" stroke-width="1.1"/>
<line x1="553.44" y1="448.73" x2="558.24" y2="448.73" stroke="#5B9BD5" stroke-width="1.1"/>
<circle cx="555.84" cy="442.71" r="2.85" fill="#5B9BD5"/>
<line x1="576.43" y1="391.55" x2="576.43" y2="422.02" stroke="#5B9BD5" stroke-width="1.1"/>
<line x1="574.03" y1="391.55" x2="578.83" y2="391.55" stroke="#5B9BD5" stroke-width="1.1"/>
<line x1="574.03" y1="422.02" x2="578.83" y2="422.02" stroke="#5B9BD5" stroke-width="1.1"/>
<circle cx="576.43" cy="407.07" r="2.85" fill="#5B9BD5"/>
<line x1="478.32" y1="501.60" x2="478.32" y2="509.89" stroke="#FFC000" stroke-width="1.1"/>
<line x1="475.92" y1="501.60" x2="480.72" y2="501.60" stroke="#FFC000" stroke-width="1.1"/>
<line x1="475.92" y1="509.89" x2="480.72" y2="509.89" stroke="#FFC000" stroke-width="1.1"/>
<circle cx="478.32" cy="505.92" r="2.85" fill="#FFC000"/>
<line x1="491.10" y1="492.46" x2="491.10" y2="503.65" stroke="#FFC000" stroke-width="1.1"/>
<line x1="488.70" y1="492.46" x2="493.50" y2="492.46" stroke="#FFC000" stroke-width="1.1"/>
<line x1="488.70" y1="503.65" x2="493.50" y2="503.65" stroke="#FFC000" stroke-width="1.1"/>
<circle cx="491.10" cy="498.48" r="2.85" fill="#FFC000"/>
<line x1="504.44" y1="481.90" x2="504.44" y2="489.91" stroke="#FFC000" stroke-width="1.1"/>
<line x1="502.04" y1="481.90" x2="506.84" y2="481.90" stroke="#FFC000" stroke-width="1.1"/>
<line x1="502.04" y1="489.91" x2="506.84" y2="489.91" stroke="#FFC000" stroke-width="1.1"/>
<circle cx="504.44" cy="485.87" r="2.85" fill="#FFC000"/>
<line x1="517.78" y1="473.04" x2="517.78" y2="478.71" stroke="#FFC000" stroke-width="1.1"/>
<line x1="515.38" y1="473.04" x2="520.18" y2="473.04" stroke="#FFC000" stroke-width="1.1"/>
<line x1="515.38" y1="478.71" x2="520.18" y2="478.71" stroke="#FFC000" stroke-width="1.1"/>
<circle cx="517.78" cy="476.16" r="2.85" fill="#FFC000"/>
<line x1="531.78" y1="462.13" x2="531.78" y2="468.86" stroke="#FFC000" stroke-width="1.1"/>
<line x1="529.38" y1="462.13" x2="534.18" y2="462.13" stroke="#FFC000" stroke-width="1.1"/>
<line x1="529.38" y1="468.86" x2="534.18" y2="468.86" stroke="#FFC000" stroke-width="1.1"/>
<circle cx="531.78" cy="465.74" r="2.85" fill="#FFC000"/>
<line x1="456.80" y1="527.80" x2="467.00" y2="518.90" stroke="#ED7D31" stroke-width="1.0"/>
<line x1="429.20" y1="548.40" x2="591.60" y2="412.20" stroke="#000" stroke-width="1.8" stroke-dasharray="6,3"/>
</svg></body></html>
